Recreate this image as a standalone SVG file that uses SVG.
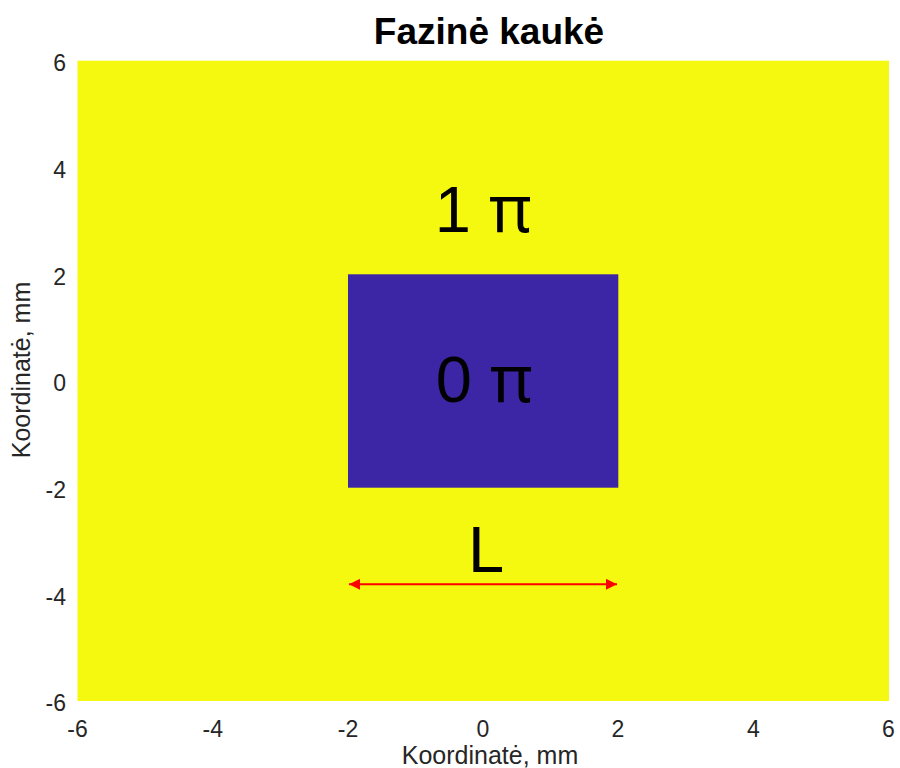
<svg xmlns="http://www.w3.org/2000/svg" width="900" height="768" viewBox="0 0 900 768">
<style>
.tick{font-family:"Liberation Sans",Arial,sans-serif;font-size:23px;fill:#262626}
.yt{text-anchor:end}
.xt{text-anchor:middle}
.lab{font-family:"Liberation Sans",Arial,sans-serif;font-size:25px;fill:#262626;text-anchor:middle}
.big{font-family:"Liberation Sans",Arial,sans-serif;font-size:65px;fill:#000;text-anchor:middle}
.pi{font-family:"Noto Sans","DejaVu Sans",sans-serif}
</style>
<defs>
<marker id="ah" viewBox="0 0 10 10" refX="10" refY="5" markerWidth="18" markerHeight="11" markerUnits="userSpaceOnUse" orient="auto-start-reverse">
<path d="M0,0 L10,5 L0,10 Z" fill="#FF0000"/>
</marker>
</defs>
<rect width="900" height="768" fill="#fff"/>
<g id="background">
<rect x="77.5" y="60.7" width="811.5" height="640.3" fill="#F5F80F"/>
</g>
<g id="center-square">
<rect x="348" y="274.3" width="270.3" height="213.4" fill="#3C26A6"/>
</g>
<g id="labels">
<text class="big" x="483" y="232">1 <tspan class="pi">π</tspan></text>
<text class="big" x="484" y="402">0 <tspan class="pi">π</tspan></text>
<text class="big" x="486" y="572">L</text>
</g>
<g id="connectors">
<line x1="349" y1="584.3" x2="617" y2="584.3" stroke="#FF0000" stroke-width="2" marker-start="url(#ah)" marker-end="url(#ah)"/>
</g>
<g id="axes">
<text class="tick yt" x="66" y="71">6</text>
<text class="tick yt" x="66" y="178">4</text>
<text class="tick yt" x="66" y="285">2</text>
<text class="tick yt" x="66" y="391">0</text>
<text class="tick yt" x="66" y="498">-2</text>
<text class="tick yt" x="66" y="605">-4</text>
<text class="tick yt" x="66" y="711">-6</text>
<text class="tick xt" x="77.5" y="737">-6</text>
<text class="tick xt" x="212.7" y="737">-4</text>
<text class="tick xt" x="348" y="737">-2</text>
<text class="tick xt" x="483" y="737">0</text>
<text class="tick xt" x="618" y="737">2</text>
<text class="tick xt" x="753.5" y="737">4</text>
<text class="tick xt" x="888.5" y="737">6</text>
<text class="lab" x="490" y="764">Koordinatė, mm</text>
<text class="lab" transform="translate(30,370) rotate(-90)">Koordinatė, mm</text>
<text x="489" y="44" font-family="'Liberation Sans',Arial,sans-serif" font-size="37" font-weight="bold" fill="#000" text-anchor="middle">Fazinė kaukė</text>
</g>
</svg>
